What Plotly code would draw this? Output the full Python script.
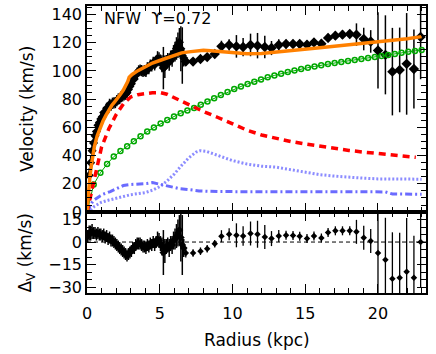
import plotly.graph_objects as go
from plotly.subplots import make_subplots

# dense inner rotation curve (kpc, km/s)
dense_r = [0.05, 0.15, 0.25, 0.35, 0.45, 0.55, 0.65, 0.75, 0.85, 0.95,
           1.05, 1.15, 1.25, 1.35, 1.45, 1.55, 1.65, 1.75, 1.85, 1.95,
           2.05, 2.15, 2.25, 2.35, 2.45, 2.55, 2.65, 2.75, 2.85, 2.95,
           3.05, 3.15, 3.25, 3.35, 3.45, 3.55, 3.65, 3.75, 3.85, 3.95,
           4.05, 4.15, 4.25, 4.35, 4.45, 4.55, 4.65, 4.75, 4.85, 4.95,
           5.05, 5.15, 5.25, 5.35, 5.45, 5.55, 5.65, 5.75, 5.85, 5.95,
           6.05, 6.15, 6.25, 6.35, 6.45, 6.55, 6.65]
dense_v = [10, 26, 35, 43.5, 49, 54, 57, 61.5, 63.5, 66,
           67.5, 70.5, 70.5, 73.5, 73.5, 76.3, 75.8, 77.1, 77.4, 77.6,
           78.9, 80.1, 80.4, 81.8, 82.3, 83, 83.5, 84.5, 86.8, 89,
           91, 93.8, 94.3, 96.9, 98.5, 100, 100.6, 100.2, 99.7, 100.2,
           99.7, 102.2, 101.7, 104.1, 103.6, 106, 104.3, 106.7, 109, 108.3,
           106.7, 105.1, 102, 102.9, 106.3, 107.7, 106.1, 109.5, 108.9, 112.3,
           113.6, 115.9, 118.2, 120.4, 115.7, 110.9, 109.1]
dense_e = [4, 5, 5, 5, 4, 4, 4, 4, 4, 4,
           4, 4, 4, 4, 4, 4, 4, 4, 4, 4,
           4, 4, 4, 4, 4, 4, 4, 4, 4, 4,
           4, 4, 4, 4, 4, 4, 4, 4, 4, 4,
           4, 4, 4, 4, 4, 4, 4, 4, 5, 5,
           5, 6, 15, 8, 5, 5, 6, 5, 6, 6,
           7, 8, 9, 10, 16, 20, 6]
dense_res = [4, 6, 6, 7, 6, 6, 5, 6, 5, 5,
             4, 5, 3, 4, 2, 3, 1, 1, 0, -1,
             -2, -3, -4, -5, -6, -7, -8, -9, -8, -7,
             -6, -4, -4, -2, -1, -1, -1, -2, -3, -3,
             -4, -2, -3, -1, -2, 0, -2, 0, 2, 1,
             -1, -3, -7, -6, -3, -2, -4, -1, -2, 1,
             2, 4, 6, 8, 3, -2, -4]

# outer points
outer_r = [6.79, 7.29, 7.80, 8.26, 8.78, 9.24, 9.77, 10.27, 10.73, 11.24,
           11.72, 12.22, 12.68, 13.18, 13.68, 14.16, 14.62, 15.12, 15.60, 16.11,
           16.57, 17.07, 17.56, 18.06, 18.52, 19.02, 19.50, 20.00, 20.51, 20.99,
           21.49, 21.97, 22.47, 22.93]
outer_v = [106.6, 106.6, 108.4, 109.8, 112.0, 117.4, 118.4, 117.4, 116.9, 118.4,
           117.9, 116.9, 116.2, 118.4, 119.1, 119.1, 119.1, 118.6, 120.2, 119.3,
           123.4, 125.0, 125.7, 126.2, 125.7, 122.6, 120.9, 114.5, 111.4, 99.5,
           100.7, 105.0, 101.4, 124.1]
outer_e = [3, 2.5, 2.5, 2.5, 2.5, 4, 4, 8, 6.5, 8,
           9, 8, 5, 4, 3, 3, 3, 3, 3, 3,
           3, 3, 3, 3, 8, 8, 8, 27, 28, 31,
           30, 36, 28, 30]
outer_res = [-7.3, -7.3, -6.1, -4.5, -1.1, 3.9, 5.2, 4.5, 4.1, 5.7,
             5.2, 3.4, 2.3, 4.1, 4.5, 4.3, 3.9, 2.3, 4.1, 2.7,
             6.3, 7.5, 7.5, 7.5, 6.8, 2.9, 0.7, -7.3, -11.8, -24.5,
             -23.8, -19.9, -23.8, 0]

# model components
total_r = [0.0, 0.1, 0.2, 0.3, 0.4, 0.5, 0.7, 0.9, 1.1, 1.3, 1.5, 1.7, 1.9, 2.1,
           2.3, 2.5, 2.7, 2.8, 2.9, 3.1, 3.5, 4.0, 4.5, 5.0, 5.5, 6.0, 6.5, 7.0,
           7.5, 8.0, 8.5, 9.0, 9.5, 10.0, 11.0, 12.0, 13.0, 14.0, 15.0, 16.0,
           17.0, 18.0, 19.0, 20.0, 21.0, 22.0, 23.0]
total_v = [0, 14, 25, 33, 40, 46, 54, 60, 64.5, 68.5, 72.5, 75.5, 78, 80.5,
           83.5, 86.5, 90, 92.5, 95.5, 97.5, 100.2, 103.2, 105.6, 107.4, 109.4, 111.3,
           112.8, 113.5, 114.2, 114.6, 114.3, 113.8, 113.3, 112.8, 112.2, 112.3,
           113.2, 114.3, 115.5, 116.5, 117.5, 118.5, 119.5, 120.6, 121.6, 122.8,
           124.3]

disk_r = [0.0, 0.5, 1.0, 1.5, 2.0, 2.5, 3.0, 3.5, 4.0, 4.5, 5.0, 5.5, 6.0, 6.5,
          7.0, 7.5, 8.0, 9.0, 10.0, 11.0, 12.0, 13.0, 14.0, 15.0, 16.0, 17.0,
          18.0, 19.0, 20.0, 21.0, 22.0, 22.6]
disk_v = [0, 23, 46, 59, 69, 76.5, 81.5, 83.2, 84, 84.5, 84.7, 83.5, 81, 78.5,
          75.8, 73.3, 71.3, 67, 62.7, 58, 54.6, 52, 50, 48.2, 46.5, 45.1,
          43.7, 42.5, 41.4, 40.3, 39.3, 38.8]

halo_r = [0.00, 0.46, 0.92, 1.38, 1.84, 2.30, 2.76, 3.22, 3.68, 4.14,
          4.60, 5.06, 5.52, 5.98, 6.44, 6.90, 7.36, 7.82, 8.28, 8.74,
          9.20, 9.66, 10.12, 10.58, 11.04, 11.50, 11.96, 12.42, 12.88, 13.34,
          13.80, 14.26, 14.72, 15.18, 15.64, 16.10, 16.56, 17.02, 17.48, 17.94,
          18.40, 18.86, 19.32, 19.78, 20.24, 20.70, 21.16, 21.62, 22.08, 22.54,
          23.00]
halo_v = [0, 19.5, 27.8, 34.0, 39.3, 43.2, 46.6, 50.2, 53.7, 57.0,
          59.9, 62.7, 65.3, 67.7, 70.0, 72.0, 73.8, 76.1, 78.4, 80.6,
          82.9, 85.1, 87.2, 89.0, 90.8, 92.4, 93.9, 95.5, 96.8, 98.0,
          99.2, 100.3, 101.4, 102.3, 103.2, 104.1, 104.9, 105.7, 106.4, 107.1,
          107.8, 108.5, 109.2, 109.9, 110.6, 111.3, 112.0, 112.8, 113.5, 114.2,
          114.9]

gas_r = [0.0, 0.2, 0.5, 1.0, 1.5, 2.0, 2.5, 3.0, 3.5, 4.0, 4.5, 5.0, 5.5, 6.0,
         6.5, 7.0, 7.5, 7.8, 8.2, 9.0, 10.0, 11.0, 12.0, 13.0, 14.0, 15.0,
         16.0, 17.0, 18.0, 19.0, 20.0, 21.0, 22.0, 23.0]
gas_v = [0, 1, 4, 7, 8.5, 9.5, 11, 12.3, 13, 13.8, 15.5, 18, 22, 27,
         33, 38.5, 42.5, 43.5, 43, 40, 36.5, 34, 32.5, 31.8, 30, 28,
         26.5, 25.5, 24.6, 24, 23.5, 23.3, 23.3, 23.3]

bulge_r = [0.0, 0.4, 0.9, 1.1, 1.6, 2.0, 2.5, 2.95, 3.6, 4.1, 4.5, 5.0, 5.5,
           5.9, 6.4, 6.9, 7.7, 9.0, 11.0, 13.0, 15.0, 17.0, 19.0, 20.5, 21.0,
           22.0, 23.0]
bulge_v = [0, 7.9, 11.4, 12.6, 14.5, 16.2, 18.8, 19.5, 19.6, 20.2, 20.9, 19.8, 18.3,
           17.4, 16.5, 16, 15, 14.5, 14.5, 14.5, 14.5, 14.5, 14.5, 14.3, 12.8,
           12.6, 12.6]

FONT = "DejaVu Sans"

fig = make_subplots(rows=2, cols=1, shared_xaxes=True, vertical_spacing=0,
                    row_heights=[0.718, 0.282])

err_style = dict(type="data", thickness=1.5, width=0, color="black")

fig.add_trace(go.Scatter(x=dense_r, y=dense_v, mode="markers",
                         marker=dict(symbol="diamond", size=7, color="black"),
                         error_y=dict(array=dense_e, **err_style)), row=1, col=1)
fig.add_trace(go.Scatter(x=outer_r, y=outer_v, mode="markers",
                         marker=dict(symbol="diamond", size=8, color="black"),
                         error_y=dict(array=outer_e, **err_style)), row=1, col=1)

fig.add_trace(go.Scatter(x=gas_r, y=gas_v, mode="lines",
                         line=dict(color="#8c8cff", width=3, dash="2px,2px")), row=1, col=1)
fig.add_trace(go.Scatter(x=bulge_r, y=bulge_v, mode="lines",
                         line=dict(color="#6b6bff", width=3, dash="7px,3px,2px,3px")), row=1, col=1)
fig.add_trace(go.Scatter(x=halo_r, y=halo_v, mode="lines+markers",
                         line=dict(color="#00a800", width=1),
                         marker=dict(symbol="circle-open", size=5, color="#00a800",
                                     line=dict(width=1.5))), row=1, col=1)
fig.add_trace(go.Scatter(x=disk_r, y=disk_v, mode="lines",
                         line=dict(color="#ff0000", width=3.5, dash="7px,5px")), row=1, col=1)
fig.add_trace(go.Scatter(x=total_r, y=total_v, mode="lines",
                         line=dict(color="#ff8000", width=3.5)), row=1, col=1)

# residuals
fig.add_trace(go.Scatter(x=dense_r, y=dense_res, mode="markers",
                         marker=dict(symbol="diamond", size=6, color="black"),
                         error_y=dict(array=dense_e, **err_style)), row=2, col=1)
fig.add_trace(go.Scatter(x=outer_r, y=outer_res, mode="markers",
                         marker=dict(symbol="diamond", size=5, color="black"),
                         error_y=dict(array=outer_e, type="data", thickness=1.3,
                                      width=0, color="black")), row=2, col=1)
fig.add_trace(go.Scatter(x=[0, 23.3], y=[0, 0], mode="lines",
                         line=dict(color="black", width=1, dash="4px,3px")), row=2, col=1)

axis_common = dict(showline=True, linecolor="black", linewidth=1.5, mirror="allticks",
                   ticks="inside", tickcolor="black", tickwidth=1.2, showgrid=False,
                   zeroline=False, automargin=False,
                   tickfont=dict(family=FONT, size=16, color="black"))

fig.update_xaxes(range=[0, 23.3], dtick=5, ticklen=9, ticklabelstandoff=5,
                 minor=dict(ticks="inside", dtick=1, ticklen=5, tickcolor="black"),
                 **axis_common)
fig.update_xaxes(showticklabels=False, row=1, col=1)
fig.update_yaxes(range=[0, 146], dtick=20, ticklen=9,
                 minor=dict(ticks="inside", dtick=5, ticklen=5, tickcolor="black"),
                 row=1, col=1, **axis_common)
fig.update_yaxes(range=[-34, 20], tickvals=[-30, -15, 0, 15], ticklen=9,
                 ticktext=["\u221230", "\u221215", "0", "15"],
                 minor=dict(ticks="inside", dtick=5, ticklen=5, tickcolor="black"),
                 row=2, col=1, **axis_common)

title_font = dict(family=FONT, size=17, color="black")
fig.add_annotation(text="Velocity (km/s)", xref="paper", yref="paper", x=-0.177, y=0.641,
                   xanchor="center", yanchor="middle",
                   textangle=-90, showarrow=False, font=title_font)
fig.add_annotation(text="\u0394<sub>V</sub> (km/s)", xref="paper", yref="paper", x=-0.177,
                   y=0.141, xanchor="center", yanchor="middle",
                   textangle=-90, showarrow=False, font=title_font)
fig.add_annotation(text="Radius (kpc)", xref="paper", yref="paper", x=0.5, y=-0.164,
                   xanchor="center", yanchor="middle", showarrow=False, font=title_font)
fig.add_annotation(text="NFW  \u03d2=0.72", xref="paper", yref="paper", x=0.045, y=0.995,
                   xanchor="left", yanchor="top", showarrow=False,
                   font=dict(family=FONT, size=16, color="black"))

fig.update_layout(width=436, height=354, showlegend=False,
                  margin=dict(l=87, r=10, t=6, b=61),
                  paper_bgcolor="white", plot_bgcolor="white")

# drop the browser's default body margin so the figure sits at the page corner
fig.write_html("out.html", config={"displayModeBar": False},
               post_script="document.body.style.margin = '0';")
